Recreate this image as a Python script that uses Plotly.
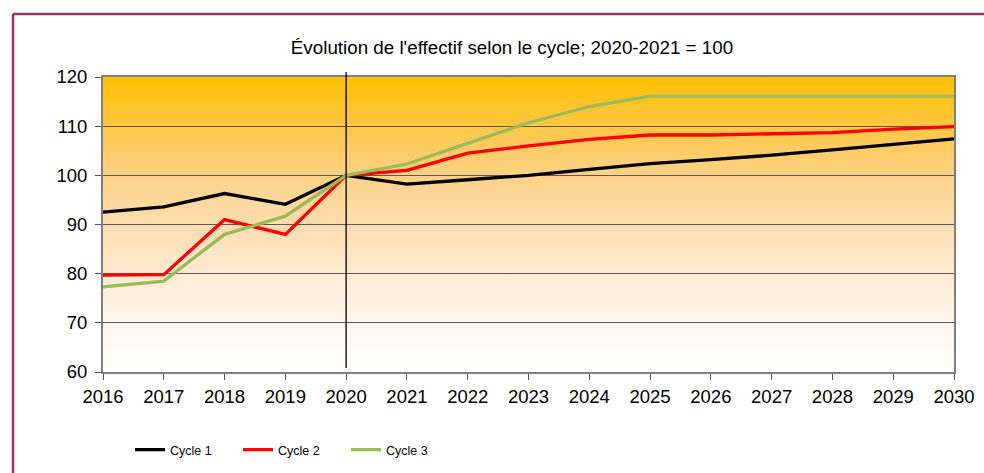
import base64
import plotly.graph_objects as go

years = list(range(2016, 2031))
cycle1 = [92.5, 93.6, 96.3, 94.1, 100.0, 98.2, 99.1, 100.0, 101.2, 102.4, 103.2, 104.1, 105.2, 106.3, 107.4]
cycle2 = [79.7, 79.8, 91.0, 88.0, 100.0, 101.0, 104.5, 106.0, 107.3, 108.2, 108.2, 108.4, 108.7, 109.4, 109.9]
cycle3 = [77.3, 78.5, 88.0, 91.7, 100.0, 102.3, 106.5, 110.7, 114.0, 116.1, 116.1, 116.1, 116.1, 116.1, 116.1]
series_names = ["Cycle 1", "Cycle 2", "Cycle 3"]
series_colors = ["#000000", "#FF0000", "#9BBB59"]
y_ticks = [60, 70, 80, 90, 100, 110, 120]
title_text = "Évolution de l'effectif selon le cycle; 2020-2021 = 100"
ref_year = 2020

W, H = 984, 473
ML, MR, MT, MB = 103, 30, 77, 101
PW, PH = W - ML - MR, H - MT - MB


def px_x(p):
    return (p - ML) / PW


def px_y(p):
    return (H - MB - p) / PH


stops = [(0.0, "#FFC000"), (0.17, "#FEC745"), (0.33, "#FDD185"), (0.5, "#FDDDB0"),
         (0.67, "#FEEBD3"), (0.83, "#FFF6EC"), (1.0, "#FFFEFC")]
svg = ('<svg xmlns="http://www.w3.org/2000/svg" width="100" height="100" preserveAspectRatio="none">'
       '<defs><linearGradient id="g" x1="0" y1="0" x2="0" y2="1">'
       + "".join('<stop offset="%g" stop-color="%s"/>' % s for s in stops) +
       '</linearGradient></defs><rect width="100" height="100" fill="url(#g)"/></svg>')
src = "data:image/svg+xml;base64," + base64.b64encode(svg.encode()).decode()

fig = go.Figure()
for name, vals, col in zip(series_names, [cycle1, cycle2, cycle3], series_colors):
    fig.add_trace(go.Scatter(x=years, y=vals, name=name, mode="lines",
                             line=dict(color=col, width=3.3), cliponaxis=False))

frame = dict(color="#993366", width=2.5)
fig.update_layout(
    width=W, height=H,
    margin=dict(l=ML, r=MR, t=MT, b=MB, autoexpand=False),
    paper_bgcolor="white",
    plot_bgcolor="rgba(0,0,0,0)",
    font=dict(family="Liberation Sans, Arial, sans-serif", color="#000000"),
    title=dict(text=title_text, x=px_x(512), xref="paper", xanchor="center",
               y=1 - 47 / H, yanchor="middle", font=dict(size=18.8, color="#000")),
    showlegend=True,
    legend=dict(orientation="h", x=px_x(130), xanchor="left", y=px_y(450), yanchor="middle",
                font=dict(size=12.5), bgcolor="rgba(0,0,0,0)", entrywidth=63,
                entrywidthmode="pixels", itemwidth=30),
    images=[dict(source=src, xref="paper", yref="paper", x=0, y=1, sizex=1, sizey=1,
                 sizing="stretch", xanchor="left", yanchor="top", layer="below")],
    shapes=[
        dict(type="line", xref="x", yref="paper", x0=ref_year, x1=ref_year,
             y0=px_y(72), y1=px_y(368), line=dict(color="#000000", width=1.3)),
        dict(type="line", xref="paper", yref="paper", x0=px_x(13), x1=px_x(984),
             y0=px_y(14), y1=px_y(14), line=frame),
        dict(type="line", xref="paper", yref="paper", x0=px_x(13), x1=px_x(13),
             y0=px_y(14), y1=px_y(473), line=frame),
    ],
)
fig.update_xaxes(range=[2016, 2030], tickvals=years, ticktext=[str(y) for y in years],
                 showgrid=False, zeroline=False, showline=True, linecolor="#7F7F7F",
                 linewidth=2, mirror=True, ticks="outside", ticklen=6, tickcolor="#555555",
                 tickfont=dict(size=18.5), ticklabelstandoff=1)
fig.update_yaxes(range=[60, 120], tickvals=y_ticks, showgrid=True, gridcolor="#5A5A5A",
                 gridwidth=1, zeroline=False, showline=True, linecolor="#7F7F7F",
                 linewidth=2, mirror=True, ticks="outside", ticklen=6, tickcolor="#555555",
                 tickfont=dict(size=18.5), ticklabelstandoff=4)

fig.write_html("out.html", config={"displayModeBar": False, "staticPlot": True},
               post_script="document.body.style.margin='0';document.body.style.overflow='hidden';")
